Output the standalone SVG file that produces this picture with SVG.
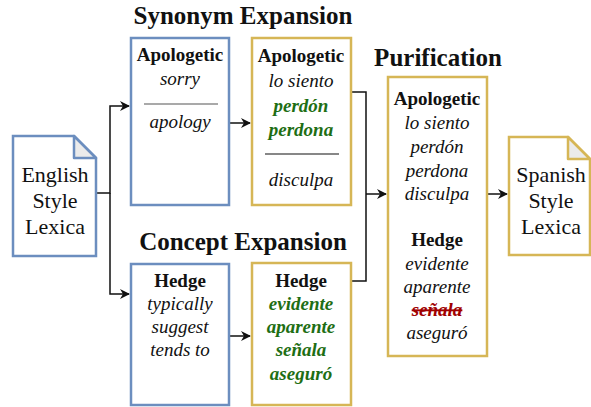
<svg xmlns="http://www.w3.org/2000/svg" width="591" height="407" viewBox="0 0 591 407" font-family="'Liberation Serif', 'DejaVu Serif', serif">
<defs>
<style>
text{font-family:'Liberation Serif','DejaVu Serif',serif;fill:#111;}
.title{font-size:25px;font-weight:bold;text-anchor:middle;}
.t{font-size:19px;text-anchor:middle;}
.b{font-weight:bold;}
.i{font-style:italic;}
.g{fill:#1e6e14;font-weight:bold;font-style:italic;}
.doc{font-size:22px;text-anchor:middle;}
.blue{fill:#fff;stroke:#6c8ebf;stroke-width:2.5;}
.yel{fill:#fff;stroke:#d6b656;stroke-width:2.5;}
.fold{fill:#ebebeb;}
.conn{fill:none;stroke:#111;stroke-width:1.5;}
</style>
<marker id="arr" viewBox="0 0 10 10" refX="9" refY="5" markerWidth="10" markerHeight="10" markerUnits="userSpaceOnUse" orient="auto">
<path d="M0,0 L10,5 L0,10 L3,5 z" fill="#111"/>
</marker>
</defs>

<text class="title" x="243" y="24">Synonym Expansion</text>
<text class="title" x="243" y="250">Concept Expansion</text>
<text class="title" x="438" y="66">Purification</text>

<g id="connectors">
<path class="conn" d="M96,193 H110 V106 H129" marker-end="url(#arr)"/>
<path class="conn" d="M110,193 V294 H129" marker-end="url(#arr)"/>
<path class="conn" d="M229,123 H250" marker-end="url(#arr)"/>
<path class="conn" d="M229,336 H250" marker-end="url(#arr)"/>
<path class="conn" d="M351,92 H366 V281 H351"/>
<path class="conn" d="M366,194 H386" marker-end="url(#arr)"/>
<path class="conn" d="M487,194 H507" marker-end="url(#arr)"/>
</g>

<g id="english">
<path class="blue" d="M13,136 H74 L96,158 V256 H13 Z"/>
<path class="fold" d="M74,136 L96,158 H74 Z" stroke="#6c8ebf" stroke-width="2.5" stroke-linejoin="round"/>
<text class="doc" x="55" y="182">English</text>
<text class="doc" x="55" y="208">Style</text>
<text class="doc" x="55" y="234">Lexica</text>
</g>

<g id="syn-en">
<rect class="blue" x="131" y="38" width="98" height="167"/>
<text class="t b" x="180" y="61">Apologetic</text>
<text class="t i" x="180" y="85">sorry</text>
<line x1="144" y1="104" x2="218" y2="104" stroke="#555" stroke-width="1.2"/>
<text class="t i" x="180" y="128">apology</text>
</g>

<g id="syn-es">
<rect class="yel" x="252" y="38" width="99" height="167"/>
<text class="t b" x="301" y="62">Apologetic</text>
<text class="t i" x="301" y="87">lo siento</text>
<text class="t g" x="301" y="112">perdón</text>
<text class="t g" x="301" y="136">perdona</text>
<line x1="265" y1="154" x2="339" y2="154" stroke="#111" stroke-width="1.2"/>
<text class="t i" x="301" y="186">disculpa</text>
</g>

<g id="con-en">
<rect class="blue" x="131" y="264" width="98" height="141"/>
<text class="t b" x="180" y="287">Hedge</text>
<text class="t i" x="180" y="310">typically</text>
<text class="t i" x="180" y="333">suggest</text>
<text class="t i" x="180" y="356">tends to</text>
</g>

<g id="con-es">
<rect class="yel" x="252" y="263" width="99" height="142"/>
<text class="t b" x="301" y="287">Hedge</text>
<text class="t g" x="301" y="310">evidente</text>
<text class="t g" x="301" y="333">aparente</text>
<text class="t g" x="301" y="356">señala</text>
<text class="t g" x="301" y="380">aseguró</text>
</g>

<g id="purification">
<rect class="yel" x="388" y="77" width="99" height="279"/>
<text class="t b" x="437" y="105">Apologetic</text>
<text class="t i" x="437" y="129">lo siento</text>
<text class="t i" x="437" y="153">perdón</text>
<text class="t i" x="437" y="177">perdona</text>
<text class="t i" x="437" y="200">disculpa</text>
<text class="t b" x="437" y="246">Hedge</text>
<text class="t i" x="437" y="270">evidente</text>
<text class="t i" x="437" y="293">aparente</text>
<text class="t i b" x="437" y="316" style="fill:#a00000;text-decoration:line-through;">señala</text>
<text class="t i" x="437" y="339">aseguró</text>
</g>

<g id="spanish">
<path class="yel" d="M509,137 H568 L590,159 V255 H509 Z"/>
<path class="fold" d="M568,137 L590,159 H568 Z" stroke="#d6b656" stroke-width="2.5" stroke-linejoin="round"/>
<text class="doc" x="551" y="182">Spanish</text>
<text class="doc" x="551" y="208">Style</text>
<text class="doc" x="551" y="234">Lexica</text>
</g>
</svg>
